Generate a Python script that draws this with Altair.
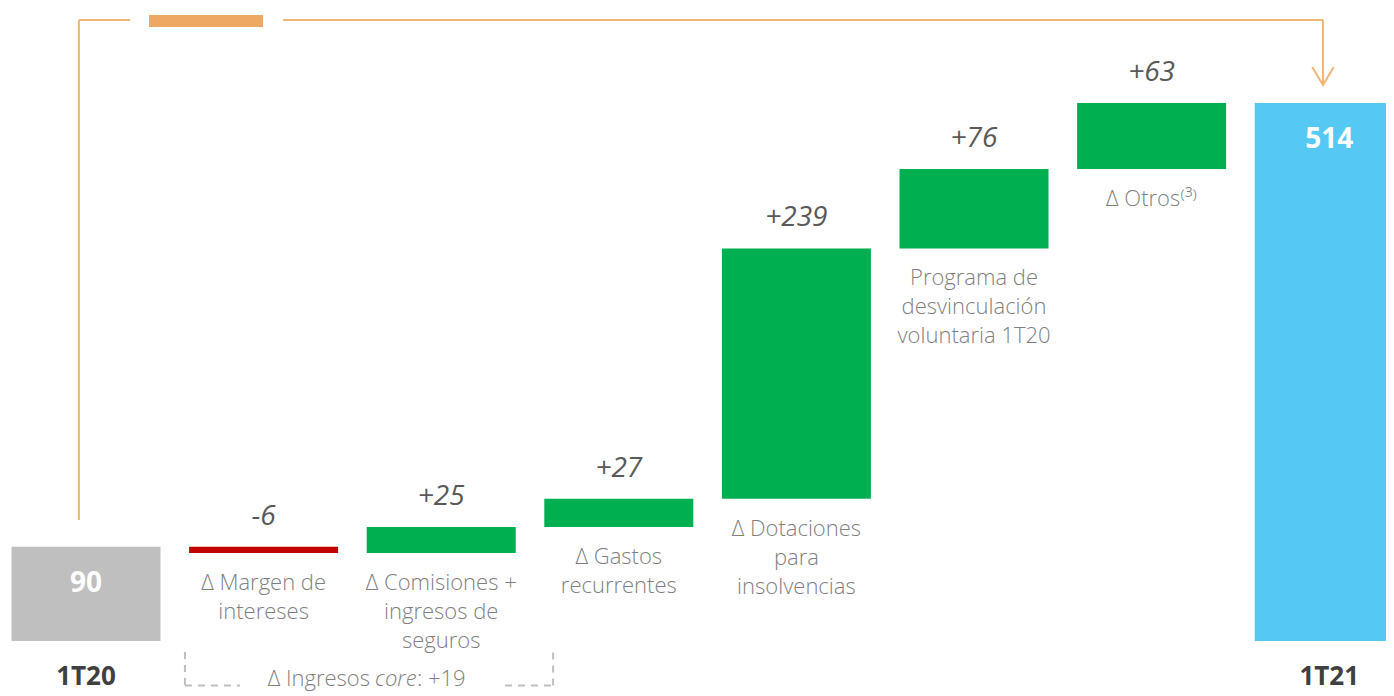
import altair as alt
import pandas as pd

# ---- data ----
start_total = 90
end_total = 514
delta_values = [-6, 25, 27, 239, 76, 63]
delta_texts = ["-6", "+25", "+27", "+239", "+76", "+63"]
delta_labels = [
    "Δ Margen de\nintereses",
    "Δ Comisiones +\ningresos de\nseguros",
    "Δ Gastos\nrecurrentes",
    "Δ Dotaciones\npara\ninsolvencias",
    "Programa de\ndesvinculación\nvoluntaria 1T20",
    "Δ Otros⁽³⁾",
]
total_names = ["1T20", "1T21"]
bracket_text = ["Δ Ingresos", "core", ": +19"]

# annotation geometry in data units (x = step index, y = value)
conn_x = [-0.04, 6.965]
conn_gap = [0.248, 1.109]
conn_y = [115.6, 593.3]
arrow_tip = 531.2
tag_x = [0.355, 0.997]
tag_y = [586.6, 598.1]
brk_x = [0.557, 0.867, 2.359, 2.63]
brk_y = [-10.5, -42.5]
brk_text_y = -36.0
brk_text_x = [1.599, 1.627, 1.864]

# ---- build tables ----
rows = []
rows.append(dict(idx=0, lo=0, hi=start_total, kind="total0"))
cum = start_total
for i, d in enumerate(delta_values):
    new = cum + d
    rows.append(dict(idx=i + 1, lo=min(cum, new), hi=max(cum, new),
                     kind="neg" if d < 0 else "pos",
                     vtxt=delta_texts[i], ctxt=delta_labels[i]))
    cum = new
rows.append(dict(idx=len(delta_values) + 1, lo=0, hi=end_total, kind="total1"))
df = pd.DataFrame(rows)
deltas = df[df.kind.isin(["neg", "pos"])]
totals = df[df.kind.isin(["total0", "total1"])].copy()
totals["vtxt"] = [str(start_total), str(end_total)]
totals["name"] = total_names

xs = alt.Scale(domain=[-0.4392, 7.3198], nice=False, zero=False, padding=0)
ys = alt.Scale(domain=[-48.72, 604.76], nice=False, zero=False, padding=0)

def X(f, **kw):
    return alt.X(f, type="quantitative", scale=xs, axis=None, **kw)

def Y(f, **kw):
    return alt.Y(f, type="quantitative", scale=ys, axis=None, **kw)

FONT = "Open Sans"

bars = alt.Chart(df).mark_bar(size=149).encode(
    x=X("idx"), y=Y("lo"), y2="hi",
    color=alt.Color("kind:N", legend=None,
                    scale=alt.Scale(domain=["total0", "neg", "pos", "total1"],
                                    range=["#BFBFBF", "#C00000", "#00B050", "#55C9F3"])),
)

vlabels = alt.Chart(deltas).mark_text(
    font=FONT, fontSize=28, fontStyle="italic", color="#595959",
    baseline="middle", dy=-30,
).encode(x=X("idx"), y=Y("hi"), text="vtxt")

clabels = alt.Chart(deltas).mark_text(
    font=FONT, fontSize=22, fontWeight=300, color="#7F7F7F",
    baseline="top", dy=20, lineBreak="\n", lineHeight=29,
).encode(x=X("idx"), y=Y("lo"), text="ctxt")

tvals = alt.Chart(totals).mark_text(
    font=FONT, fontSize=28, fontWeight="bold", color="white",
    baseline="middle", dy=37,
).encode(x=X("idx"), y=Y("hi"), text="vtxt")

tnames = alt.Chart(totals).mark_text(
    font=FONT, fontSize=26, fontWeight="bold", color="#404040",
    baseline="middle", dy=36,
).encode(x=X("idx"), y=Y("lo"), text="name")

seg = pd.DataFrame([
    dict(x=conn_x[0], x2=conn_x[0], y=conn_y[0], y2=conn_y[1]),
    dict(x=conn_x[0], x2=conn_gap[0], y=conn_y[1], y2=conn_y[1]),
    dict(x=conn_gap[1], x2=conn_x[1], y=conn_y[1], y2=conn_y[1]),
    dict(x=conn_x[1], x2=conn_x[1], y=conn_y[1], y2=arrow_tip),
])
conn = alt.Chart(seg).mark_rule(color="#F2B57A", strokeWidth=2).encode(
    x=X("x"), x2="x2", y=Y("y"), y2="y2")

tag = alt.Chart(pd.DataFrame([dict(x=tag_x[0], x2=tag_x[1], y=tag_y[0], y2=tag_y[1])])).mark_rect(
    color="#EDA864").encode(x=X("x"), x2="x2", y=Y("y"), y2="y2")

arrow = alt.Chart(pd.DataFrame([dict(x=conn_x[1], y=arrow_tip)])).mark_point(
    shape="M-0.6,-1L0,0L0.6,-1", size=1296, filled=False, stroke="#F2B57A",
    strokeWidth=2, opacity=1).encode(x=X("x"), y=Y("y"))

bseg = pd.DataFrame([
    dict(x=brk_x[0], x2=brk_x[0], y=brk_y[0], y2=brk_y[1]),
    dict(x=brk_x[0], x2=brk_x[1], y=brk_y[1], y2=brk_y[1]),
    dict(x=brk_x[2], x2=brk_x[3], y=brk_y[1], y2=brk_y[1]),
    dict(x=brk_x[3], x2=brk_x[3], y=brk_y[1], y2=brk_y[0]),
])
bracket = alt.Chart(bseg).mark_rule(color="#BFBFBF", strokeWidth=2, strokeDash=[7, 6]).encode(
    x=X("x"), x2="x2", y=Y("y"), y2="y2")

btxt = pd.DataFrame(dict(x=brk_text_x, y=[brk_text_y] * 3, t=bracket_text))
bt_style = dict(font=FONT, fontSize=22, fontWeight=300, color="#7F7F7F", baseline="middle")
bt1 = alt.Chart(btxt.iloc[[0]]).mark_text(align="right", **bt_style).encode(x=X("x"), y=Y("y"), text="t")
bt2 = alt.Chart(btxt.iloc[[1]]).mark_text(align="left", fontStyle="italic", **bt_style).encode(x=X("x"), y=Y("y"), text="t")
bt3 = alt.Chart(btxt.iloc[[2]]).mark_text(align="left", **bt_style).encode(x=X("x"), y=Y("y"), text="t")

chart = alt.layer(conn, tag, arrow, bars, vlabels, clabels, tvals, tnames, bracket, bt1, bt2, bt3).properties(
    width=1378, height=684, autosize=alt.AutoSizeParams(type="none"), padding=0,
    background="white",
).configure_view(stroke=None)

chart.save("out.html", embed_options={"renderer": "svg", "actions": False})
